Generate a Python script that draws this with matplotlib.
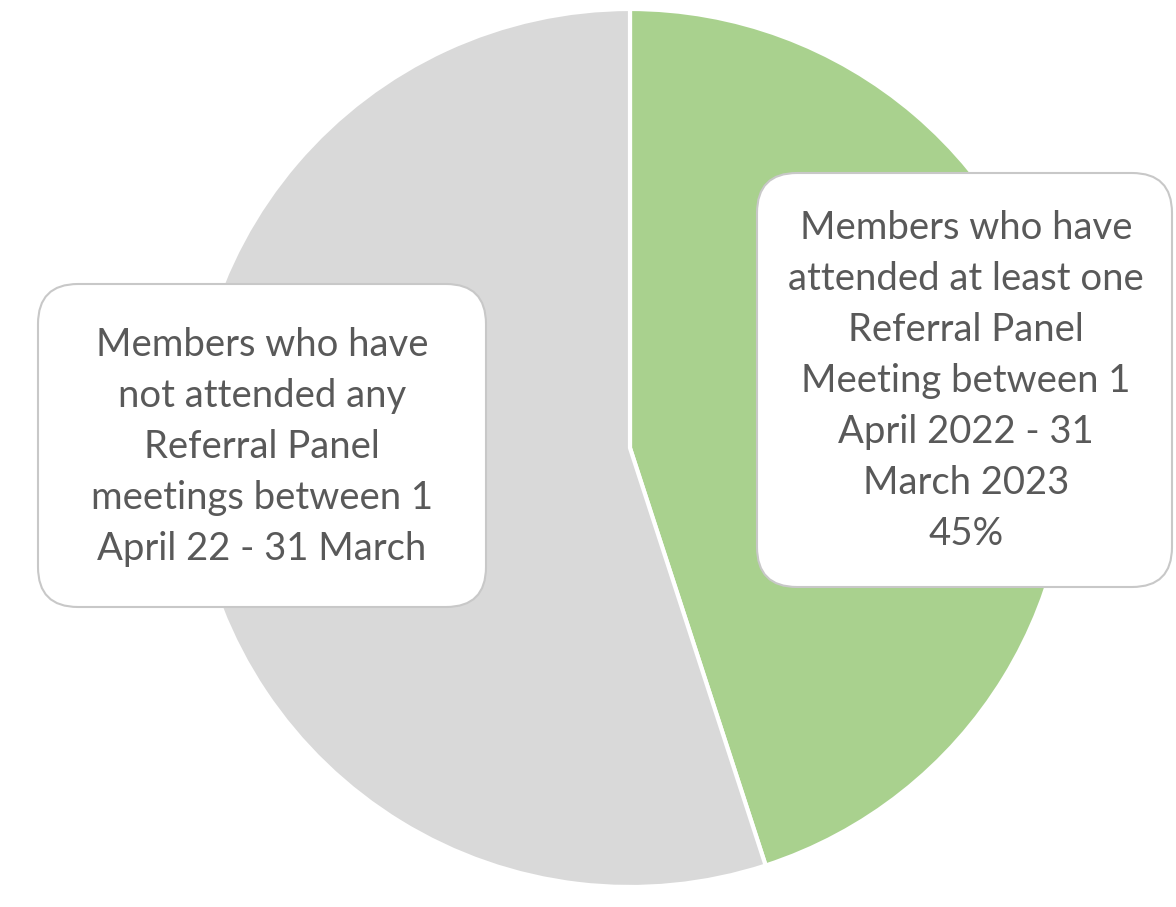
import matplotlib
matplotlib.use("Agg")
import matplotlib.pyplot as plt
from matplotlib.patches import FancyBboxPatch

# Data
categories = [
    "Members who have\nattended at least one\nReferral Panel\nMeeting between 1\nApril 2022 - 31\nMarch 2023\n45%",
    "Members who have\nnot attended any\nReferral Panel\nmeetings between 1\nApril 22 - 31 March",
]
values = [45, 55]
colors = ["#A9D18E", "#D9D9D9"]

W, H = 1176, 907
fig = plt.figure(figsize=(W / 100, H / 100), dpi=100)
fig.patch.set_facecolor("white")

cx, cy, r = 630, 448, 439
ax = fig.add_axes([(cx - r) / W, (H - cy - r) / H, 2 * r / W, 2 * r / H])
ax.pie(values, colors=colors, startangle=90, counterclock=False,
       wedgeprops=dict(edgecolor="white", linewidth=3))
ax.set_xlim(-1, 1)
ax.set_ylim(-1, 1)
ax.set_axis_off()

# Overlay axes in pixel coords for label boxes
ov = fig.add_axes([0, 0, 1, 1])
ov.set_xlim(0, W)
ov.set_ylim(H, 0)
ov.set_axis_off()
ov.patch.set_alpha(0)

boxes = [
    (757, 173, 415, 414, 966, 381),   # green label
    (38, 284, 448, 323, 262, 447),    # gray label
]
for (x0, y0, bw, bh, tx, ty), lab in zip(boxes, categories):
    rad = 40
    p = FancyBboxPatch((x0 + rad, y0 + rad), bw - 2 * rad, bh - 2 * rad,
                       boxstyle=f"round,pad={rad},rounding_size={rad}",
                       facecolor="white", edgecolor="#C8C8C8", linewidth=1.5)
    ov.add_patch(p)
    ov.text(tx, ty, lab, ha="center", va="center", fontsize=27.5,
            family="Lato", color="#595959", linespacing=1.52)

fig.savefig("out.png", dpi=100)
